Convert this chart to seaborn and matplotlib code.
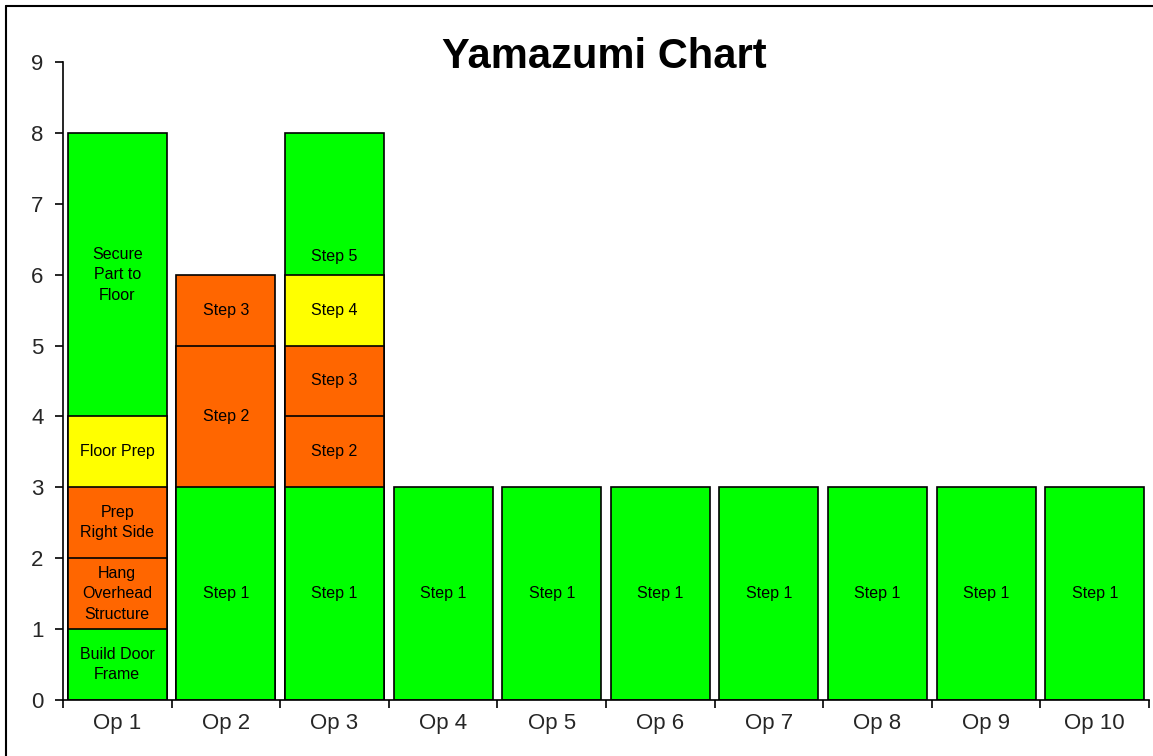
import matplotlib
matplotlib.use("Agg")
import matplotlib.pyplot as plt
import seaborn as sns
import pandas as pd
import numpy as np
from matplotlib.lines import Line2D
from matplotlib.ticker import FixedLocator

# ---- data ----
ops = ["Op 1", "Op 2", "Op 3", "Op 4", "Op 5", "Op 6", "Op 7", "Op 8", "Op 9", "Op 10"]
layer1 = [1, 3, 3, 3, 3, 3, 3, 3, 3, 3]
layer2 = [1, 2, 1, 0, 0, 0, 0, 0, 0, 0]
layer3 = [1, 1, 1, 0, 0, 0, 0, 0, 0, 0]
layer4 = [1, 0, 1, 0, 0, 0, 0, 0, 0, 0]
layer5 = [4, 0, 2, 0, 0, 0, 0, 0, 0, 0]
labels1 = ["Build Door\nFrame"] + ["Step 1"] * 9
labels2 = ["Hang\nOverhead\nStructure", "Step 2", "Step 2"] + [""] * 7
labels3 = ["Prep\nRight Side", "Step 3", "Step 3"] + [""] * 7
labels4 = ["Floor Prep", "", "Step 4"] + [""] * 7
labels5 = ["Secure\nPart to\nFloor", "", "Step 5"] + [""] * 7
layer_colors = ["#00FF00", "#FF6600", "#FF6600", "#FFFF00", "#00FF00"]
title = "Yamazumi Chart"

layers = [layer1, layer2, layer3, layer4, layer5]
layer_labels = [labels1, labels2, labels3, labels4, labels5]

sns.set_style("white")
plt.rcParams["font.family"] = ["Liberation Sans", "DejaVu Sans"]

fig = plt.figure(figsize=(11.53, 7.56), dpi=100)
ax = fig.add_axes([63 / 1153, 1 - 700 / 756, (1149 - 63) / 1153, (700 - 62) / 756])

vals = np.array(layers, dtype=float)
cum = np.cumsum(vals, axis=0)

# draw cumulative bars from the top layer down so lower layers cover
for k in range(len(layers) - 1, -1, -1):
    mask = vals[k] > 0
    df = pd.DataFrame({"op": np.array(ops)[mask], "cum": cum[k][mask]})
    sns.barplot(data=df, x="op", y="cum", order=ops, color=layer_colors[k],
                saturation=1, edgecolor="black", linewidth=1.2, width=0.91,
                errorbar=None, ax=ax)

# segment labels
label_nudge = {(2, 4): -0.75}
for k in range(len(layers)):
    for i in range(len(ops)):
        v = vals[k][i]
        lab = layer_labels[k][i]
        if v > 0 and lab:
            y = cum[k][i] - v / 2 + label_nudge.get((i, k), 0)
            ax.text(i, y, lab, ha="center", va="center", fontsize=11.5,
                    color="black", linespacing=1.45)

ax.set_xlim(-0.5, len(ops) - 0.5)
ax.set_ylim(0, 9)
ax.set_yticks(range(0, 10))
ax.set_xlabel("")
ax.set_ylabel("")

for s in ["top", "right"]:
    ax.spines[s].set_visible(False)
for s in ["left", "bottom"]:
    ax.spines[s].set_color("black")
    ax.spines[s].set_linewidth(1.2)

ax.xaxis.set_minor_locator(FixedLocator(np.arange(-0.5, len(ops), 1.0)))
ax.tick_params(axis="x", which="major", length=0, pad=9, labelsize=16, labelcolor="#262626")
ax.tick_params(axis="x", which="minor", length=6, width=1.2, color="black", direction="out")
ax.tick_params(axis="y", which="major", length=6, width=1.2, color="black", direction="out",
               pad=8, labelsize=16, labelcolor="#262626", left=True)
ax.tick_params(axis="x", which="major", bottom=False)
ax.tick_params(axis="x", which="minor", bottom=True)

fig.text(604 / 1153, 1 - 68 / 756, title, ha="center", va="baseline",
         fontsize=30, fontweight="bold", color="black")

# outer frame (left and top edges)
fig.add_artist(Line2D([6 / 1153, 6 / 1153], [0, 1 - 6 / 756], color="black", lw=1.5,
                      transform=fig.transFigure))
fig.add_artist(Line2D([6 / 1153, 1], [1 - 6 / 756, 1 - 6 / 756], color="black", lw=1.5,
                      transform=fig.transFigure))

fig.savefig("out.png", dpi=100)
